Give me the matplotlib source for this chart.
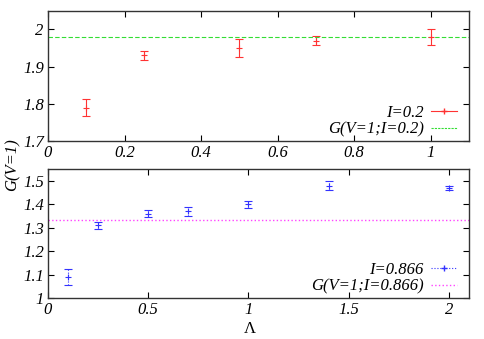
import numpy as np
import matplotlib.pyplot as plt
from matplotlib.lines import Line2D
from matplotlib.legend_handler import HandlerTuple

# top panel, I=0.2
lam_top = [0.1, 0.25, 0.5, 0.7, 1.0]
g_top = [1.79, 1.93, 1.95, 1.97, 1.98]
err_top = [0.024, 0.011, 0.025, 0.012, 0.021]
g_ref_top = 1.98

# bottom panel, I=0.866
lam_bot = [0.1, 0.25, 0.5, 0.7, 1.0, 1.4, 2.0]
g_bot = [1.09, 1.31, 1.36, 1.37, 1.40, 1.48, 1.47]
err_bot = [0.035, 0.014, 0.016, 0.018, 0.016, 0.020, 0.010]
g_ref_bot = 1.333

plt.rcParams['font.family'] = ['Liberation Serif', 'DejaVu Serif']
plt.rcParams['font.style'] = 'italic'

fig = plt.figure(figsize=(4.85, 3.39), dpi=100)
ax1 = fig.add_axes([0.099, 0.584, 0.868, 0.384])
ax2 = fig.add_axes([0.099, 0.121, 0.868, 0.380])

red = '#ff3333'
blue = '#3333ff'
green = '#33dd33'
magenta = '#ff44ff'

ax1.errorbar(lam_top, g_top, yerr=err_top, fmt='+', color=red, ms=5, mew=0.8,
             elinewidth=0.8, capsize=3, capthick=0.8)
ax1.axhline(g_ref_top, color=green, ls=(0, (4, 2)), lw=0.8)
ax1.set_xlim(0, 1.1)
ax1.set_ylim(1.7, 2.05)
ax1.set_xticks([0, 0.2, 0.4, 0.6, 0.8, 1])
ax1.set_xticklabels(['0', '0.2', '0.4', '0.6', '0.8', '1'])
ax1.set_yticks([1.7, 1.8, 1.9, 2.0])
ax1.set_yticklabels(['1.7', '1.8', '1.9', '2'])

eb = ax2.errorbar(lam_bot, g_bot, yerr=err_bot, fmt='+', color=blue, ms=5, mew=0.8,
                  elinewidth=0.8, capsize=3, capthick=0.8)
eb[2][0].set_linestyle(':')
ax2.axhline(g_ref_bot, color=magenta, ls=':', lw=1.0)
ax2.set_xlim(0, 2.1)
ax2.set_ylim(1.0, 1.55)
ax2.set_xticks([0, 0.5, 1, 1.5, 2])
ax2.set_xticklabels(['0', '0.5', '1', '1.5', '2'])
ax2.set_yticks([1.0, 1.1, 1.2, 1.3, 1.4, 1.5])
ax2.set_yticklabels(['1', '1.1', '1.2', '1.3', '1.4', '1.5'])

for ax in (ax1, ax2):
    ax.tick_params(direction='in', top=True, right=True, length=4, width=0.8,
                   labelsize=12, pad=3)
    for s in ax.spines.values():
        s.set_linewidth(1.0)
        s.set_color('#333333')

leg_kw = dict(loc='lower right', bbox_to_anchor=(0.98, 0.0), frameon=False,
              markerfirst=False, fontsize=12, handlelength=1.6, numpoints=1,
              borderaxespad=0.0, borderpad=0.2, labelspacing=0.05, handletextpad=0.4,
              handler_map={tuple: HandlerTuple(ndivide=1)})

h1 = (Line2D([], [], color=red, lw=0.8), Line2D([], [], color=red, marker='+', ls='', ms=4))
h1b = Line2D([], [], color=green, ls=(0, (2, 1)), lw=0.8)
ax1.legend([h1, h1b], ['I=0.2', 'G(V=1;I=0.2)'], **leg_kw)

h2 = (Line2D([], [], color=blue, lw=0.8, ls=':'), Line2D([], [], color=blue, marker='+', ls='', ms=4))
h2b = Line2D([], [], color=magenta, ls=':', lw=1.0)
ax2.legend([h2, h2b], ['I=0.866', 'G(V=1;I=0.866)'], **leg_kw)

fig.text(0.025, 0.515, 'G(V=1)', rotation=90, fontsize=12, ha='center', va='center')
fig.text(0.516, 0.03, 'Λ', fontsize=12, ha='center', va='center', style='normal')

fig.savefig('out.png', dpi=100)
